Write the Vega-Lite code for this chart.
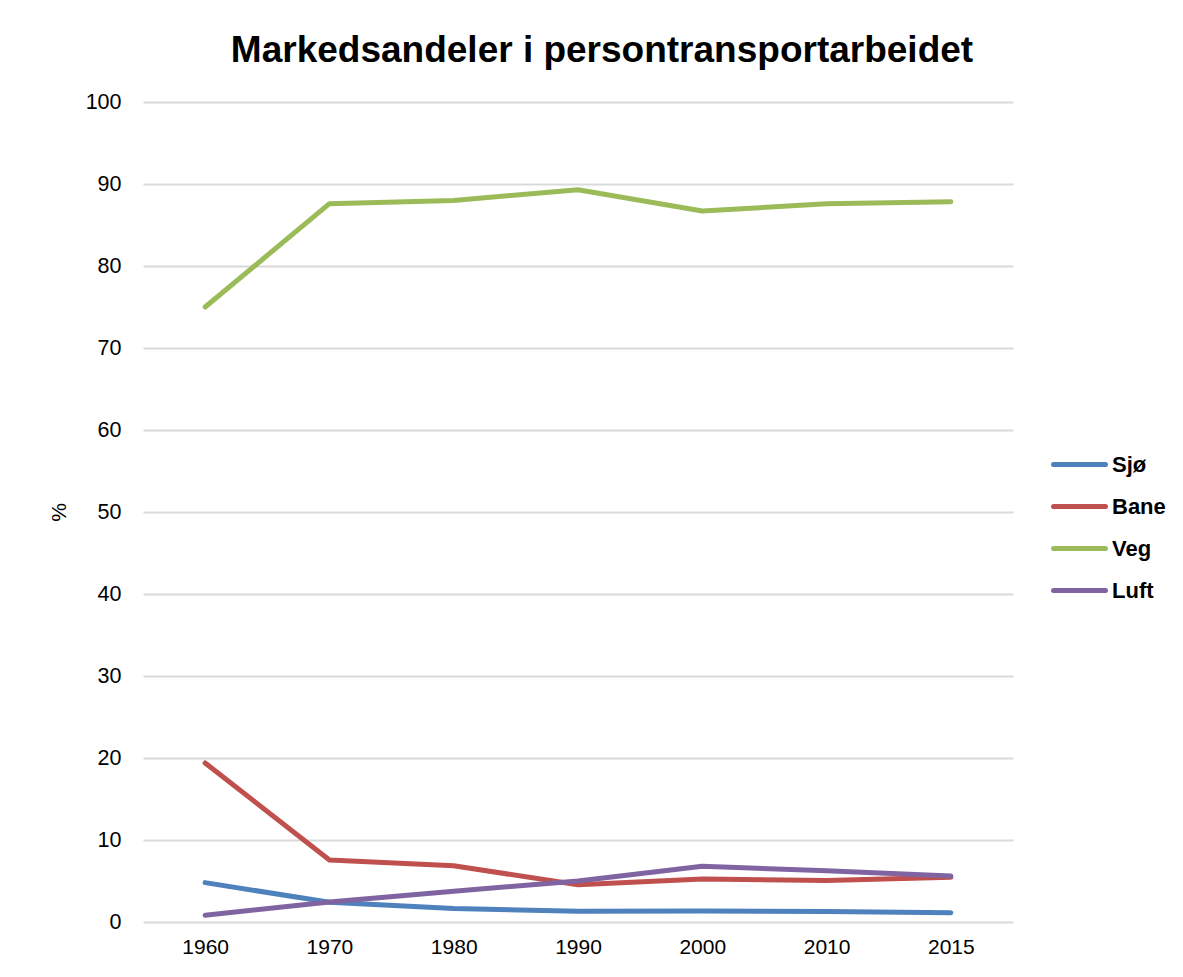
{
  "$schema": "https://vega.github.io/schema/vega-lite/v6.json",
  "width": 870,
  "height": 820,
  "autosize": {"type": "pad"},
  "padding": {"left": 48, "top": 32, "right": 5, "bottom": 5},
  "background": "white",
  "title": {
    "text": "Markedsandeler i persontransportarbeidet",
    "font": "Liberation Sans",
    "fontSize": 37,
    "fontWeight": "bold",
    "color": "#000000",
    "anchor": "middle",
    "dx": 24,
    "offset": 21
  },
  "data": {
    "values": [
      {"year": "1960", "mode": "Sjø", "share": 4.8},
      {"year": "1970", "mode": "Sjø", "share": 2.4},
      {"year": "1980", "mode": "Sjø", "share": 1.65},
      {"year": "1990", "mode": "Sjø", "share": 1.3},
      {"year": "2000", "mode": "Sjø", "share": 1.35},
      {"year": "2010", "mode": "Sjø", "share": 1.28},
      {"year": "2015", "mode": "Sjø", "share": 1.12},
      {"year": "1960", "mode": "Bane", "share": 19.4},
      {"year": "1970", "mode": "Bane", "share": 7.55},
      {"year": "1980", "mode": "Bane", "share": 6.85},
      {"year": "1990", "mode": "Bane", "share": 4.55},
      {"year": "2000", "mode": "Bane", "share": 5.25},
      {"year": "2010", "mode": "Bane", "share": 5.05},
      {"year": "2015", "mode": "Bane", "share": 5.45},
      {"year": "1960", "mode": "Veg", "share": 75.0},
      {"year": "1970", "mode": "Veg", "share": 87.6},
      {"year": "1980", "mode": "Veg", "share": 88.0},
      {"year": "1990", "mode": "Veg", "share": 89.3},
      {"year": "2000", "mode": "Veg", "share": 86.7},
      {"year": "2010", "mode": "Veg", "share": 87.6},
      {"year": "2015", "mode": "Veg", "share": 87.85},
      {"year": "1960", "mode": "Luft", "share": 0.82},
      {"year": "1970", "mode": "Luft", "share": 2.45},
      {"year": "1980", "mode": "Luft", "share": 3.75},
      {"year": "1990", "mode": "Luft", "share": 5.0},
      {"year": "2000", "mode": "Luft", "share": 6.8},
      {"year": "2010", "mode": "Luft", "share": 6.25},
      {"year": "2015", "mode": "Luft", "share": 5.6}
    ]
  },
  "mark": {"type": "line", "strokeWidth": 5, "strokeCap": "round", "strokeJoin": "round"},
  "encoding": {
    "x": {
      "field": "year",
      "type": "ordinal",
      "scale": {"type": "point", "padding": 0.5},
      "axis": {
        "title": null,
        "labelAngle": 0,
        "labelFont": "Liberation Sans",
        "labelFontSize": 21,
        "labelColor": "#000000",
        "labelPadding": 14,
        "ticks": false,
        "domain": false,
        "grid": false
      }
    },
    "y": {
      "field": "share",
      "type": "quantitative",
      "scale": {"domain": [0, 100], "nice": false},
      "axis": {
        "title": "%",
        "titleFont": "Liberation Sans",
        "titleFontSize": 21,
        "titleFontWeight": "normal",
        "titleColor": "#000000",
        "titlePadding": 16,
        "values": [0, 10, 20, 30, 40, 50, 60, 70, 80, 90, 100],
        "labelFont": "Liberation Sans",
        "labelFontSize": 21.5,
        "labelColor": "#000000",
        "labelPadding": 22,
        "ticks": false,
        "domain": false,
        "grid": true,
        "gridColor": "#D9D9D9",
        "gridWidth": 2
      }
    },
    "color": {
      "field": "mode",
      "type": "nominal",
      "scale": {
        "domain": ["Sjø", "Bane", "Veg", "Luft"],
        "range": ["#4F81BD", "#C0504D", "#9BBB59", "#8064A2"]
      },
      "legend": {
        "title": null,
        "orient": "none",
        "legendX": 908,
        "legendY": 334,
        "symbolType": "stroke",
        "symbolStrokeWidth": 5,
        "symbolSize": 2700,
        "labelFont": "Liberation Sans",
        "labelFontSize": 22,
        "labelFontWeight": "bold",
        "labelColor": "#000000",
        "labelOffset": 4,
        "rowPadding": 2,
        "encode": {"symbols": {"update": {"strokeCap": {"value": "round"}}}}
      }
    }
  },
  "config": {"view": {"stroke": null}}
}
